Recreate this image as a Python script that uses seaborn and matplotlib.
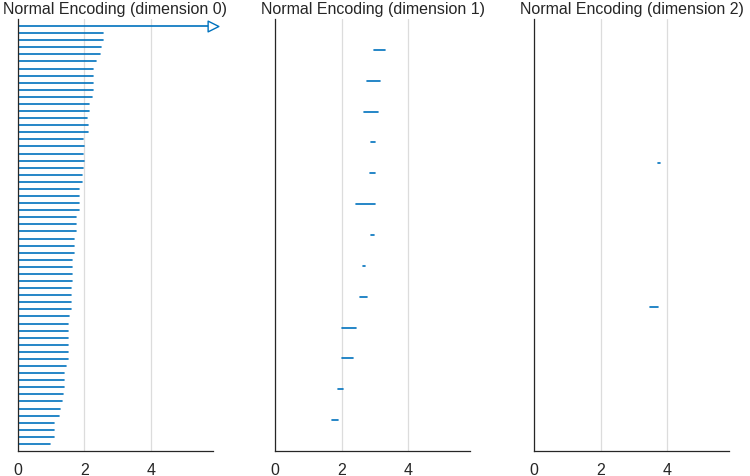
import numpy as np
import pandas as pd
import matplotlib
matplotlib.use("Agg")
import matplotlib.pyplot as plt
import seaborn as sns

# interval data (lower, upper) per row, top row first
dim0_lower = [0.0] * 60
dim0_upper = [np.inf, 2.57, 2.57, 2.50, 2.46, 2.35, 2.27, 2.27, 2.27, 2.27,
              2.23, 2.15, 2.15, 2.08, 2.11, 2.11, 1.95, 1.99, 1.95, 2.00,
              1.95, 1.92, 1.92, 1.85, 1.85, 1.85, 1.85, 1.74, 1.74, 1.74,
              1.69, 1.69, 1.69, 1.62, 1.62, 1.62, 1.62, 1.59, 1.59, 1.59,
              1.59, 1.55, 1.51, 1.51, 1.51, 1.51, 1.51, 1.51, 1.44, 1.39,
              1.39, 1.39, 1.35, 1.32, 1.28, 1.24, 1.08, 1.08, 1.08, 0.97]

dim1_lower = [2.96, 2.76, 2.66, 2.88, 2.85, 2.43, 2.88, 2.64, 2.54, 2.01, 2.01, 1.89, 1.70]
dim1_upper = [3.30, 3.15, 3.08, 3.00, 3.00, 3.00, 2.96, 2.71, 2.75, 2.44, 2.32, 2.02, 1.87]

dim2_lower = [3.72, 3.48]
dim2_upper = [3.79, 3.71]

titles = ["Normal Encoding (dimension 0)",
          "Normal Encoding (dimension 1)",
          "Normal Encoding (dimension 2)"]
x_max = 5.86
blue = "#0072BD"

sns.set_theme(style="white")
plt.rcParams["font.family"] = ["Liberation Sans", "DejaVu Sans"]

fig = plt.figure(figsize=(7.5, 4.77), dpi=100)
lefts = [17.7 / 750, 275.3 / 750, 534.3 / 750]
panels = [(dim0_lower, dim0_upper), (dim1_lower, dim1_upper), (dim2_lower, dim2_upper)]

for left, (lo, hi), title in zip(lefts, panels, titles):
    ax = fig.add_axes([left, 25 / 477, 195 / 750, 432 / 477])
    n = len(lo)
    rows = np.arange(1, n + 1)
    hi_clip = np.minimum(np.array(hi, dtype=float), x_max)
    df = pd.DataFrame({
        "x": np.concatenate([lo, hi_clip]),
        "row": np.concatenate([rows, rows]),
        "seg": np.concatenate([rows, rows]),
    })
    sns.lineplot(data=df, x="x", y="row", units="seg", estimator=None,
                 color=blue, linewidth=1.2, ax=ax, legend=False)
    # open-ended intervals get an arrow head at the axis edge
    inf_rows = rows[np.isinf(np.array(hi, dtype=float))]
    if len(inf_rows):
        sns.scatterplot(x=[x_max] * len(inf_rows), y=inf_rows, marker=">",
                        s=60, facecolor="white", edgecolor=blue, linewidth=1.0,
                        ax=ax, clip_on=False, zorder=5, legend=False)
    ax.set_xlim(0, x_max)
    ax.set_ylim(n + 1, 0)
    ax.set_xticks([0, 2, 4])
    ax.set_xticklabels(["0", "2", "4"])
    ax.set_yticks([])
    ax.set_xlabel("")
    ax.set_ylabel("")
    ax.grid(axis="x", color="#dcdcdc", linewidth=0.9)
    ax.set_axisbelow(True)
    for side in ["top", "right"]:
        ax.spines[side].set_visible(False)
    for side in ["left", "bottom"]:
        ax.spines[side].set_color("#262626")
        ax.spines[side].set_linewidth(0.9)
    ax.tick_params(axis="x", length=0, pad=8, labelsize=11.5, labelcolor="#262626")
    ax.set_title(title, fontsize=11.5, color="#262626", pad=4)

fig.savefig("out.png", dpi=100)
